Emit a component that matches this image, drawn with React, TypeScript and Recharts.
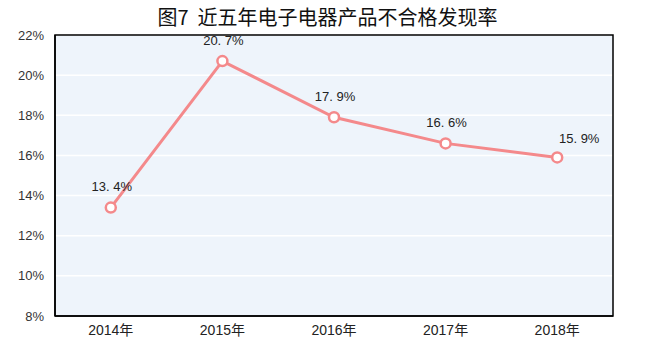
import { LineChart, Line, XAxis, YAxis, CartesianGrid, LabelList, ReferenceArea } from 'recharts'

const years = ['2014年', '2015年', '2016年', '2017年', '2018年']
const rates = [13.4, 20.7, 17.9, 16.6, 15.9]
const yTicks = [8, 10, 12, 14, 16, 18, 20, 22]

// numeric x so the plot frame can span the half-band margins on both sides
const data = years.map((year, i) => ({ idx: i, year, rate: rates[i] }))
const xTicks = years.map((_, i) => i)

const font = '"Liberation Sans", Arial, "Noto Sans CJK SC", sans-serif'

function RateLabel(props: any) {
  const { x, y, value, index } = props
  const last = index === rates.length - 1
  return (
    <text
      x={x + (last ? 22 : 1)}
      y={y - (last ? 18 : 20)}
      textAnchor="middle"
      dominantBaseline="middle"
      fontSize={13}
      fill="#222"
      fontFamily={font}
    >
      {String(value.toFixed(1)).replace('.', '. ') + '%'}
    </text>
  )
}

export default function App() {
  return (
    <div style={{ position: 'absolute', left: 0, top: 0, width: 647, height: 354, background: '#fff' }}>
      <div
        style={{
          position: 'absolute',
          left: 4,
          top: 5,
          width: 647,
          textAlign: 'center',
          whiteSpace: 'pre',
          fontSize: 20,
          fontFamily: '"Noto Sans CJK SC", sans-serif',
          color: '#111',
          lineHeight: '24px',
        }}
      >
        {'图7  近五年电子电器产品不合格发现率'}
      </div>
      <LineChart
        width={647}
        height={354}
        data={data}
        margin={{ top: 35, right: 34, bottom: 0, left: 0 }}
      >
        <CartesianGrid vertical={false} stroke="#ffffff" strokeWidth={1.5} fill="#eef4fb" />
        <ReferenceArea x1={-0.5} x2={4.5} y1={8} y2={22} fill="none" stroke="#000" strokeWidth={1.5} />
        <XAxis
          dataKey="idx"
          type="number"
          domain={[-0.5, 4.5]}
          ticks={xTicks}
          interval={0}
          tickFormatter={(i: number) => years[i] ?? ''}
          height={38}
          tickLine={false}
          tickSize={0}
          tickMargin={9}
          axisLine={{ stroke: '#000', strokeWidth: 1.5 }}
          tick={{ fill: '#222', fontSize: 14, fontFamily: font }}
        />
        <YAxis
          width={55}
          domain={[8, 22]}
          ticks={yTicks}
          interval={0}
          tickFormatter={(v: number) => `${v}%`}
          tickLine={false}
          tickSize={0}
          tickMargin={11}
          axisLine={{ stroke: '#000', strokeWidth: 1.5 }}
          tick={{ fill: '#333', fontSize: 13, fontFamily: font }}
        />
        <Line
          dataKey="rate"
          stroke="#f4898b"
          strokeWidth={3}
          dot={{ r: 5, fill: '#fff', stroke: '#f4898b', strokeWidth: 2.5 }}
          activeDot={false}
          isAnimationActive={false}
        >
          <LabelList dataKey="rate" content={<RateLabel />} />
        </Line>
      </LineChart>
    </div>
  )
}
